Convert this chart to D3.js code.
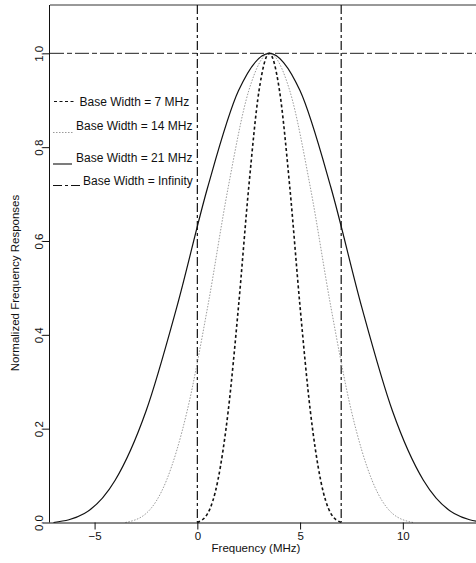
<!DOCTYPE html>
<html>
<head>
<meta charset="utf-8">
<script src="https://cdn.jsdelivr.net/npm/d3@7"></script>
<style>
  html, body { margin: 0; padding: 0; background: #fff; }
  svg { display: block; font-family: "Liberation Sans", Arial, Helvetica, sans-serif; }
</style>
</head>
<body>
<svg id="chart" width="476" height="563"></svg>
<script>
// Frequency responses of a filter centred on 3.5 MHz for several base widths
const freq7  = [0, 0.5, 1, 1.5, 2, 2.5, 3, 3.5, 4, 4.5, 5, 5.5, 6, 6.5, 7];
const resp7  = [0, 0.019, 0.090, 0.237, 0.459, 0.714, 0.920, 1.0, 0.920, 0.714, 0.459, 0.237, 0.090, 0.019, 0];

const freq14 = [-3.5, -2.5, -1.5, -0.5, 0.5, 1.5, 2.5, 3.5, 4.5, 5.5, 6.5, 7.5, 8.5, 9.5, 10.5];
const resp14 = [0, 0.019, 0.090, 0.237, 0.459, 0.714, 0.920, 1.0, 0.920, 0.714, 0.459, 0.237, 0.090, 0.019, 0];

const freq21 = [-7, -5.5, -4, -2.5, -1, 0.5, 2, 3.5, 5, 6.5, 8, 9.5, 11, 12.5, 14];
const resp21 = [0, 0.019, 0.090, 0.237, 0.459, 0.714, 0.920, 1.0, 0.920, 0.714, 0.459, 0.237, 0.090, 0.019, 0];

// Ideal (infinite base width) response: pass band edges and level
const infEdges = [0, 7];
const infLevel = 1.0;

const xTicks = [-5, 0, 5, 10];
const yTicks = [0.0, 0.2, 0.4, 0.6, 0.8, 1.0];

const legendLabels = [
  "Base Width = 7 MHz",
  "Base Width = 14 MHz",
  "Base Width = 21 MHz",
  "Base Width = Infinity"
];

const svg = d3.select("#chart");
const plotLeft = 50, plotRight = 476, plotTop = 5, plotBottom = 522.5;

const x = d3.scaleLinear().domain([-7.17, 13.56]).range([plotLeft, plotRight]);
const y = d3.scaleLinear().domain([0, 1.103]).range([plotBottom, plotTop]);

const styles = [
  { stroke: "#111", width: 1.6, dash: "3,2.5" },
  { stroke: "#9a9a9a", width: 1.0, dash: "1.5,1.5" },
  { stroke: "#111", width: 1.2, dash: null },
  { stroke: "#111", width: 1.2, dash: "9,3,3,3" }
];

// Frame: top border
svg.append("line")
  .attr("x1", plotLeft).attr("x2", plotRight).attr("y1", plotTop).attr("y2", plotTop)
  .attr("stroke", "#333").attr("stroke-width", 1);

// Ideal response reference lines
svg.append("line")
  .attr("x1", plotLeft).attr("x2", plotRight)
  .attr("y1", y(infLevel)).attr("y2", y(infLevel))
  .attr("stroke", "#222").attr("stroke-width", 1)
  .attr("stroke-dasharray", "14,3,5,3");
svg.selectAll("line.edge").data(infEdges).join("line")
  .attr("class", "edge")
  .attr("x1", d => x(d)).attr("x2", d => x(d))
  .attr("y1", plotTop).attr("y2", plotBottom)
  .attr("stroke", styles[3].stroke).attr("stroke-width", styles[3].width)
  .attr("stroke-dasharray", styles[3].dash);

// Response curves
const series = [
  { f: freq7, r: resp7, s: styles[0] },
  { f: freq14, r: resp14, s: styles[1] },
  { f: freq21, r: resp21, s: styles[2] }
];
const line = d3.line()
  .x(d => x(d[0])).y(d => y(d[1]))
  .curve(d3.curveMonotoneX);

series.forEach(se => {
  const pts = se.f.map((f, i) => [f, se.r[i]]);
  svg.append("path")
    .datum(pts)
    .attr("d", line)
    .attr("fill", "none")
    .attr("stroke", se.s.stroke)
    .attr("stroke-width", se.s.width)
    .attr("stroke-dasharray", se.s.dash);
});

// X axis
const xAxis = svg.append("g")
  .attr("transform", `translate(0,${plotBottom})`)
  .call(d3.axisBottom(x).tickValues(xTicks).tickSize(7).tickPadding(2).tickFormat(d3.format("d")));
xAxis.select(".domain").attr("d", `M${plotLeft},0.5H${plotRight}`).attr("stroke", "#111");
xAxis.selectAll(".tick line").attr("stroke", "#111");
xAxis.selectAll(".tick text")
  .attr("font-size", 11.5).attr("fill", "#111")
  .attr("font-family", "'Liberation Sans', Arial, sans-serif");

// Y axis
const yAxis = svg.append("g")
  .attr("transform", `translate(${plotLeft},0)`)
  .call(d3.axisLeft(y).tickValues(yTicks).tickSize(7).tickFormat(d3.format(".1f")));
yAxis.select(".domain").attr("d", `M-0.5,${plotTop}V${plotBottom}`).attr("stroke", "#111");
yAxis.selectAll(".tick line").attr("stroke", "#111");
yAxis.selectAll(".tick text")
  .attr("font-size", 11.5).attr("fill", "#111")
  .attr("font-family", "'Liberation Sans', Arial, sans-serif")
  .attr("text-anchor", "middle")
  .attr("x", null).attr("dy", null)
  .attr("transform", "translate(-7,0) rotate(-90)")
  .attr("y", 0);

// Axis titles
svg.append("text")
  .attr("x", 256).attr("y", 552)
  .attr("text-anchor", "middle")
  .attr("font-size", 11.5).attr("fill", "#111")
  .text("Frequency (MHz)");
svg.append("text")
  .attr("transform", "translate(18.5,283) rotate(-90)")
  .attr("text-anchor", "middle")
  .attr("font-size", 11.5).attr("fill", "#111")
  .text("Normalized Frequency Responses");

// Legend
const legendRows = [
  { lineY: 101.5, x1: 54, x2: 76, textX: 79.5, baseY: 105.5 },
  { lineY: 132.5, x1: 53, x2: 74, textX: 76, baseY: 130 },
  { lineY: 164, x1: 53, x2: 72, textX: 76, baseY: 162 },
  { lineY: 185.5, x1: 53, x2: 82, textX: 83, baseY: 184.5 }
];
legendLabels.forEach((lab, i) => {
  const row = legendRows[i];
  svg.append("line")
    .attr("x1", row.x1).attr("x2", row.x2)
    .attr("y1", row.lineY).attr("y2", row.lineY)
    .attr("stroke", styles[i].stroke)
    .attr("stroke-width", i === 1 ? 1 : 1.1)
    .attr("stroke-dasharray", styles[i].dash);
  svg.append("text")
    .attr("x", row.textX).attr("y", row.baseY)
    .attr("font-size", 12).attr("fill", "#111")
    .text(lab);
});
</script>
</body>
</html>
